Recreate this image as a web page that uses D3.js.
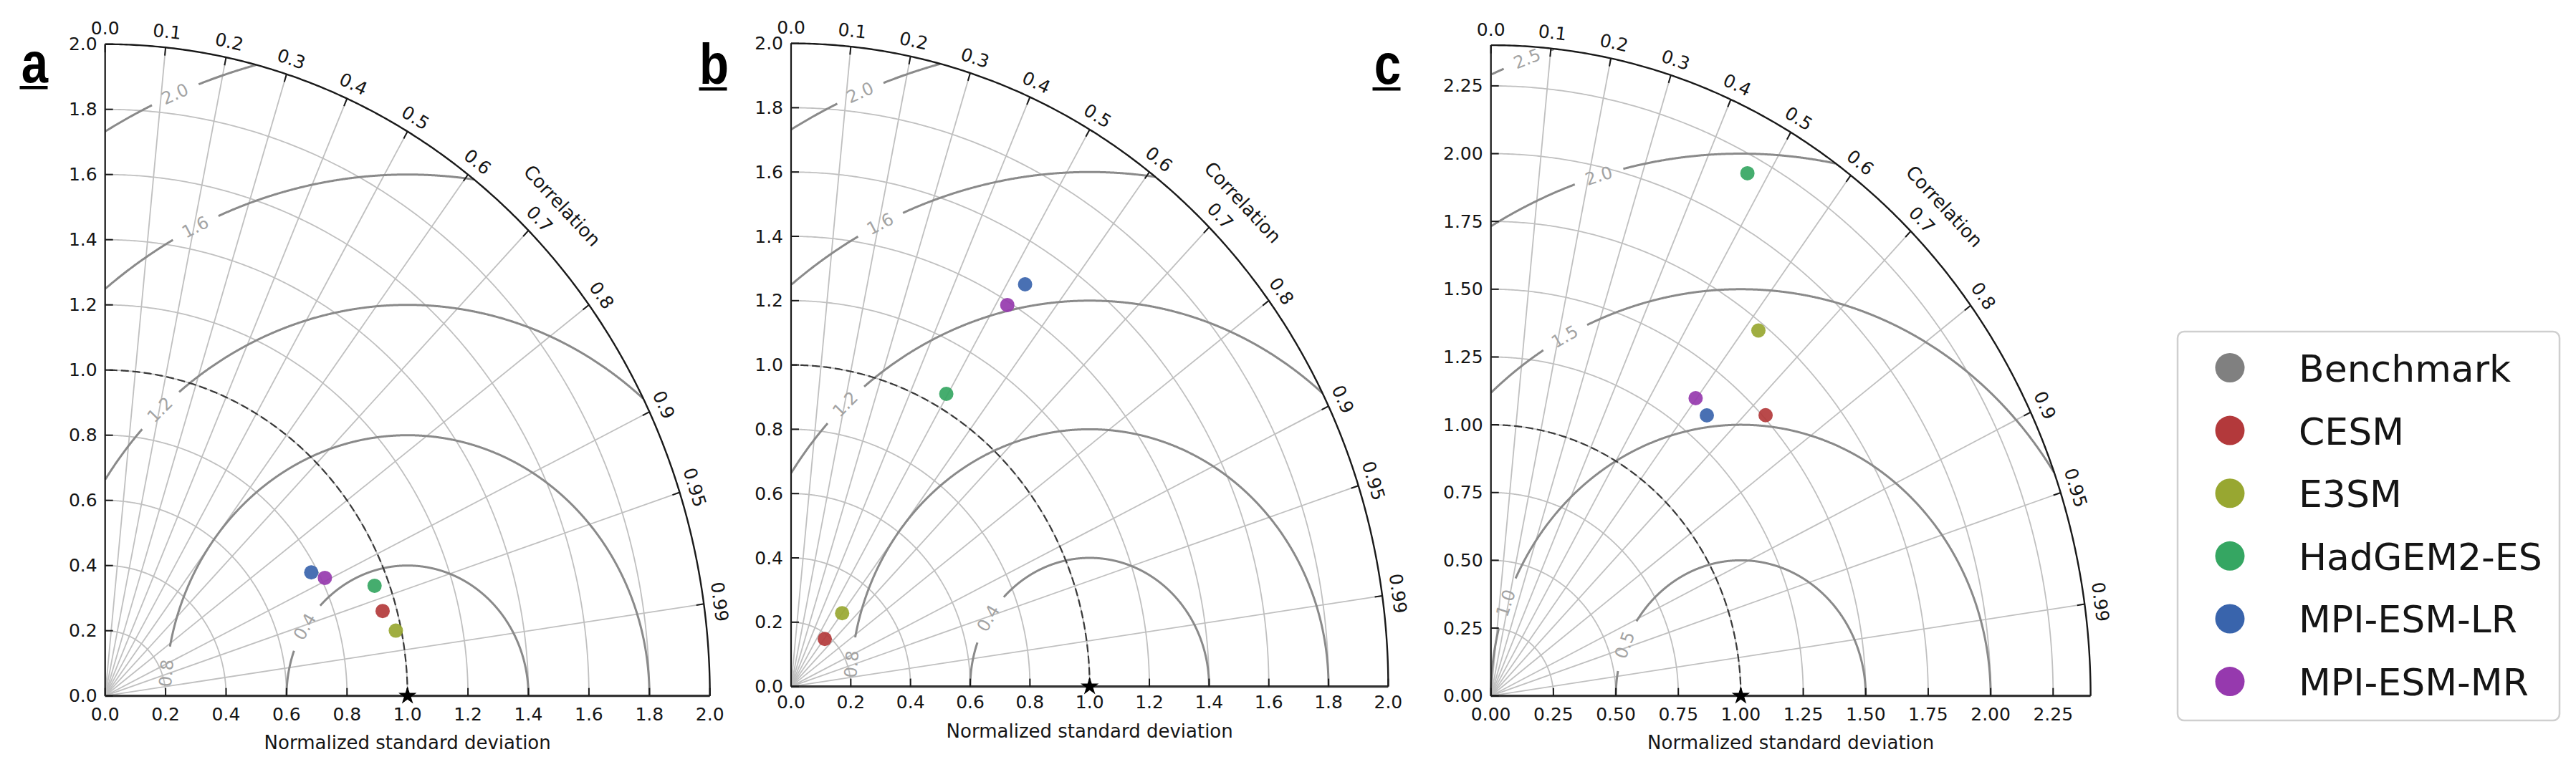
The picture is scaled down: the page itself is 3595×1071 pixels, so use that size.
<!DOCTYPE html>
<html>
<head>
<meta charset="utf-8">
<script src="https://cdn.jsdelivr.net/npm/d3@7"></script>
<style>
  html, body { margin: 0; padding: 0; background: #fff; }
  svg { display: block; font-family: "DejaVu Sans", sans-serif; }
</style>
</head>
<body>
<svg id="chart" width="3595" height="1071"></svg>
<script>
// ---- data ----
const models = ['CESM', 'E3SM', 'HadGEM2-ES', 'MPI-ESM-LR', 'MPI-ESM-MR'];
const modelColors = ['#b3393b', '#98a731', '#35a662', '#3964ac', '#9639ae'];
const benchmarkLabel = 'Benchmark';
const benchmarkColor = '#808080';
const refStd = 1.0;

// normalized standard deviation / correlation, same order as models
const stdA = [0.954, 0.982, 0.953, 0.780, 0.812];
const corA = [0.962, 0.979, 0.935, 0.874, 0.895];
const stdB = [0.186, 0.285, 1.048, 1.476, 1.390];
const corB = [0.607, 0.600, 0.496, 0.531, 0.521];
const stdC = [1.510, 1.721, 2.184, 1.348, 1.370];
const corC = [0.728, 0.622, 0.470, 0.641, 0.598];

const corrTicks = [0, 0.1, 0.2, 0.3, 0.4, 0.5, 0.6, 0.7, 0.8, 0.9, 0.95, 0.99];
const corrTickLabels = ['0.0', '0.1', '0.2', '0.3', '0.4', '0.5', '0.6', '0.7', '0.8', '0.9', '0.95', '0.99'];

const stdTicksAB = [0, 0.2, 0.4, 0.6, 0.8, 1.0, 1.2, 1.4, 1.6, 1.8, 2.0];
const stdTicksC = [0, 0.25, 0.5, 0.75, 1.0, 1.25, 1.5, 1.75, 2.0, 2.25];

// centred RMS difference contours and where their inline labels sit (deg around the benchmark)
const rmsLevelsAB = [0.4, 0.8, 1.2, 1.6, 2.0];
const rmsLabelAnglesAB = [148, 175, 133, 116, 112.6];
const rmsLevelsC = [0.5, 1.0, 1.5, 2.0, 2.5];
const rmsLabelAnglesC = [158, 160, 118, 106.5, 110];

const panelLetters = ['a', 'b', 'c'];

const panels = [
  { std: stdA, corr: corA, smax: 2.0, ticks: stdTicksAB, fmt: d3.format('.1f'), levels: rmsLevelsAB, labelAngles: rmsLabelAnglesAB },
  { std: stdB, corr: corB, smax: 2.0, ticks: stdTicksAB, fmt: d3.format('.1f'), levels: rmsLevelsAB, labelAngles: rmsLabelAnglesAB },
  { std: stdC, corr: corC, smax: 2.4, ticks: stdTicksC, fmt: d3.format('.2f'), levels: rmsLevelsC, labelAngles: rmsLabelAnglesC }
];

// ---- layout (pixels) ----
const layout = [
  { x0: 146.7, y0: 971.7, w: 844.0, h: 910.0, letterX: 48.5, letterY: 115, titleDy: 65, tickDy: 26 },
  { x0: 1104.0, y0: 958.6, w: 833.4, h: 898.0, letterX: 996.5, letterY: 117, titleDy: 62, tickDy: 22 },
  { x0: 2080.7, y0: 971.7, w: 836.9, h: 908.6, letterX: 1936.5, letterY: 117, titleDy: 65, tickDy: 26 }
];

const style = {
  grid: '#c0c0c0',
  contour: '#8a8a8a',
  contourLabel: '#a3a3a3',
  axis: '#1a1a1a',
  text: '#151515'
};

const svg = d3.select('#chart');
const rad = d => d * Math.PI / 180;
const deg = r => r * 180 / Math.PI;

panels.forEach((p, k) => {
  const box = layout[k];
  const sx = d3.scaleLinear().domain([0, p.smax]).range([box.x0, box.x0 + box.w]);
  const sy = d3.scaleLinear().domain([0, p.smax]).range([box.y0, box.y0 - box.h]);
  const ux = box.w / p.smax;
  const uy = box.h / p.smax;
  const uAvg = (ux + uy) / 2;
  const pt = (s, th) => [sx(s * Math.cos(th)), sy(s * Math.sin(th))];
  const line = d3.line();
  const quarter = d3.range(0, 90.001, 0.25).map(rad);

  const g = svg.append('g').attr('class', 'taylor');

  // std grid arcs
  p.ticks.filter(t => t > 0 && t < p.smax).forEach(t => {
    g.append('path')
      .attr('d', line(quarter.map(th => pt(t, th))))
      .attr('fill', 'none')
      .attr('stroke', style.grid)
      .attr('stroke-width', 1.8);
  });

  // correlation grid rays
  corrTicks.forEach(c => {
    const th = Math.acos(c);
    const [x2, y2] = pt(p.smax, th);
    g.append('line')
      .attr('x1', sx(0)).attr('y1', sy(0))
      .attr('x2', x2).attr('y2', y2)
      .attr('stroke', style.grid)
      .attr('stroke-width', 1.8);
  });

  // RMS contours (circles round the benchmark, clipped to the quarter disc)
  p.levels.forEach((lev, i) => {
    const phiL = p.labelAngles[i];
    const halfGap = deg(36 / (lev * uAvg));
    const pts = d3.range(0, 180.001, 0.1).map(phi => ({
      x: refStd + lev * Math.cos(rad(phi)),
      y: lev * Math.sin(rad(phi)),
      phi
    }));
    const contour = d3.line()
      .defined(d => d.x >= 0 && d.x * d.x + d.y * d.y <= p.smax * p.smax && Math.abs(d.phi - phiL) > halfGap)
      .x(d => sx(d.x))
      .y(d => sy(d.y));
    g.append('path')
      .attr('d', contour(pts))
      .attr('fill', 'none')
      .attr('stroke', style.contour)
      .attr('stroke-width', 3);

    const f = rad(phiL);
    const lx = sx(refStd + lev * Math.cos(f));
    const ly = sy(lev * Math.sin(f));
    let ang = deg(Math.atan2(-Math.cos(f) * uy, -Math.sin(f) * ux));
    if (ang > 90) ang -= 180;
    if (ang < -90) ang += 180;
    g.append('text')
      .attr('transform', `translate(${lx},${ly}) rotate(${ang})`)
      .attr('text-anchor', 'middle')
      .attr('dominant-baseline', 'central')
      .attr('font-size', 24)
      .attr('fill', style.contourLabel)
      .text(d3.format('.1f')(lev));
  });

  // reference std circle
  g.append('path')
    .attr('d', line(quarter.map(th => pt(refStd, th))))
    .attr('fill', 'none')
    .attr('stroke', '#3a3a3a')
    .attr('stroke-width', 2.2)
    .attr('stroke-dasharray', '11,5');

  // model points
  models.forEach((m, i) => {
    const [x, y] = pt(p.std[i], Math.acos(p.corr[i]));
    g.append('circle')
      .attr('cx', x).attr('cy', y)
      .attr('r', 10)
      .attr('fill', modelColors[i])
      .attr('fill-opacity', 0.92);
  });

  // axes frame
  g.append('line')
    .attr('x1', sx(0)).attr('y1', sy(0))
    .attr('x2', sx(0)).attr('y2', sy(p.smax))
    .attr('stroke', style.axis).attr('stroke-width', 2.2);
  g.append('line')
    .attr('x1', sx(0)).attr('y1', sy(0))
    .attr('x2', sx(p.smax)).attr('y2', sy(0))
    .attr('stroke', '#333').attr('stroke-width', 3.2);
  g.append('path')
    .attr('d', line(quarter.map(th => pt(p.smax, th))))
    .attr('fill', 'none')
    .attr('stroke', style.axis)
    .attr('stroke-width', 2.4);

  // std ticks and labels
  p.ticks.forEach(t => {
    g.append('line')
      .attr('x1', sx(0)).attr('y1', sy(t))
      .attr('x2', sx(0) + 11).attr('y2', sy(t))
      .attr('stroke', style.axis).attr('stroke-width', 2);
    g.append('line')
      .attr('x1', sx(t)).attr('y1', sy(0))
      .attr('x2', sx(t)).attr('y2', sy(0) - 11)
      .attr('stroke', style.axis).attr('stroke-width', 2);
    g.append('text')
      .attr('x', sx(0) - 11).attr('y', sy(t))
      .attr('text-anchor', 'end')
      .attr('dominant-baseline', 'central')
      .attr('font-size', 25)
      .attr('fill', style.text)
      .text(p.fmt(t));
    g.append('text')
      .attr('x', sx(t)).attr('y', sy(0) + box.tickDy)
      .attr('text-anchor', 'middle')
      .attr('dominant-baseline', 'central')
      .attr('font-size', 25)
      .attr('fill', style.text)
      .text(p.fmt(t));
  });

  // correlation ticks and labels
  corrTicks.forEach((c, i) => {
    const th = Math.acos(c);
    const [x1, y1] = pt(p.smax, th);
    const [x2, y2] = pt(p.smax - 11 / uAvg, th);
    g.append('line')
      .attr('x1', x1).attr('y1', y1)
      .attr('x2', x2).attr('y2', y2)
      .attr('stroke', style.axis).attr('stroke-width', 2);
    const lx = x1 + 22 * Math.cos(th);
    const ly = y1 - 22 * Math.sin(th);
    const ang = deg(Math.atan2(Math.cos(th) * uy, Math.sin(th) * ux));
    g.append('text')
      .attr('transform', `translate(${lx},${ly}) rotate(${ang})`)
      .attr('text-anchor', 'middle')
      .attr('dominant-baseline', 'central')
      .attr('font-size', 25)
      .attr('fill', style.text)
      .text(corrTickLabels[i]);
  });

  // axis titles
  g.append('text')
    .attr('x', sx(p.smax / 2)).attr('y', sy(0) + box.titleDy)
    .attr('text-anchor', 'middle')
    .attr('dominant-baseline', 'central')
    .attr('font-size', 26)
    .attr('fill', style.text)
    .text('Normalized standard deviation');

  const thC = Math.PI / 4;
  const [cx0, cy0] = pt(p.smax, thC);
  g.append('text')
    .attr('transform', `translate(${cx0 + 58 * Math.cos(thC)},${cy0 - 58 * Math.sin(thC)}) rotate(${deg(Math.atan2(Math.cos(thC) * uy, Math.sin(thC) * ux))})`)
    .attr('text-anchor', 'middle')
    .attr('dominant-baseline', 'central')
    .attr('font-size', 26)
    .attr('fill', style.text)
    .text('Correlation');

  // benchmark star
  g.append('path')
    .attr('transform', `translate(${sx(refStd)},${sy(0)})`)
    .attr('d', d3.symbol(d3.symbolStar, 200)())
    .attr('fill', '#000');

  // panel letter
  svg.append('text')
    .attr('transform', `translate(${box.letterX},${box.letterY}) scale(0.84,1)`)
    .attr('text-anchor', 'middle')
    .attr('font-family', '"Liberation Sans", Arial, sans-serif')
    .attr('font-weight', 'bold')
    .attr('font-size', 80)
    .attr('fill', '#000')
    .text(panelLetters[k]);
  svg.append('rect')
    .attr('x', box.letterX - 21).attr('y', box.letterY + 5)
    .attr('width', 39).attr('height', 4.5)
    .attr('fill', '#000');
});

// ---- legend ----
const legendNames = [benchmarkLabel].concat(models);
const legendColors = [benchmarkColor].concat(modelColors);
const legend = svg.append('g').attr('class', 'legend');
legend.append('rect')
  .attr('x', 3039).attr('y', 463)
  .attr('width', 533).attr('height', 543)
  .attr('rx', 9)
  .attr('fill', '#fff')
  .attr('stroke', '#cfcfcf')
  .attr('stroke-width', 2.5);

const legendY = d3.scalePoint().domain(legendNames).range([513.5, 951.6]);
legendNames.forEach((name, i) => {
  const cy = legendY(name);
  legend.append('circle')
    .attr('cx', 3112).attr('cy', cy)
    .attr('r', 20.5)
    .attr('fill', legendColors[i]);
  legend.append('text')
    .attr('x', 3208).attr('y', cy + 19.5)
    .attr('font-size', 52)
    .attr('fill', style.text)
    .text(name);
});
</script>
</body>
</html>
